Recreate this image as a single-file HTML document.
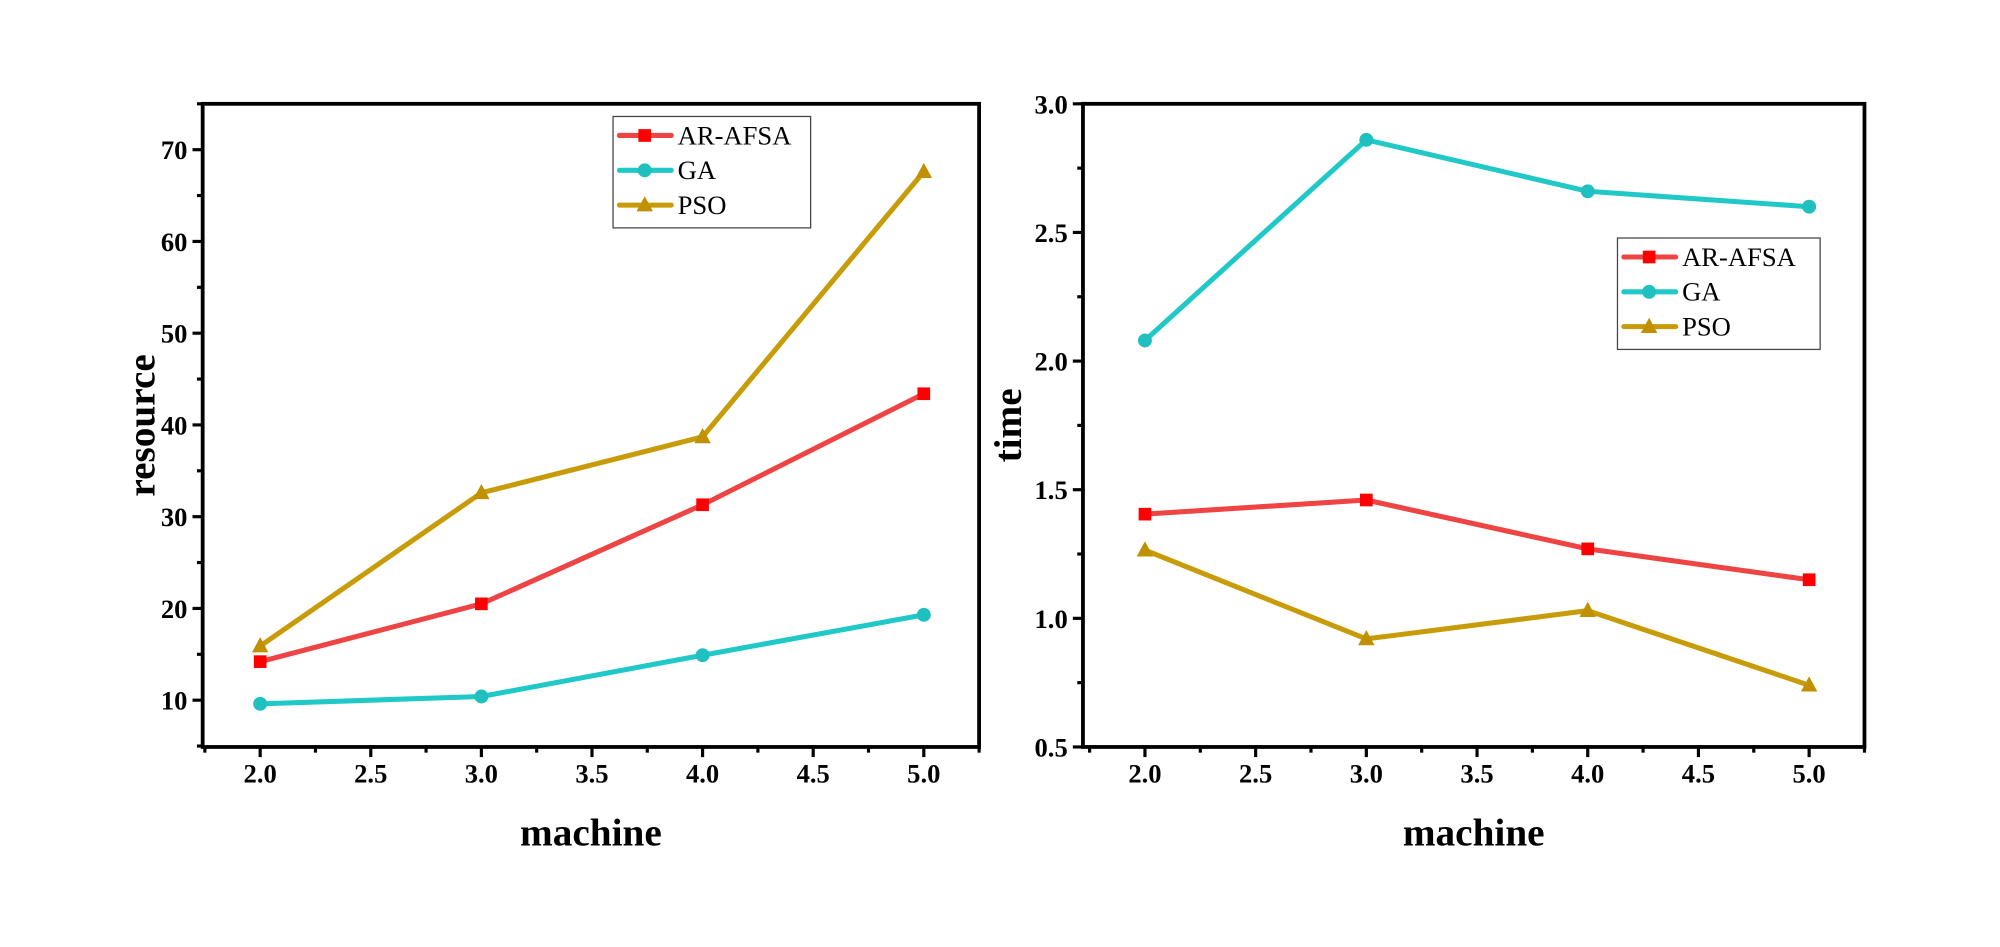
<!DOCTYPE html>
<html><head><meta charset="utf-8"><style>
html,body{margin:0;padding:0;background:#fff;}
svg{display:block;}
text{font-family:"Liberation Serif",serif;}
</style></head><body>
<svg id="root" width="2000" height="947" viewBox="0 0 1579 748" preserveAspectRatio="none" xmlns="http://www.w3.org/2000/svg"></svg>
<script>
const categories = [2, 3, 4, 5];
const seriesNames = ["AR-AFSA", "GA", "PSO"];
const resourceAR = [14.2, 20.5, 31.3, 43.4];
const resourceGA = [9.6, 10.4, 14.9, 19.3];
const resourcePSO = [15.9, 32.6, 38.7, 67.6];
const timeAR = [1.405, 1.46, 1.27, 1.15];
const timeGA = [2.08, 2.86, 2.66, 2.60];
const timePSO = [1.265, 0.92, 1.03, 0.74];
const xTickLabels = ["2.0","2.5","3.0","3.5","4.0","4.5","5.0"];
const leftYTickLabels = ["10","20","30","40","50","60","70"];
const rightYTickLabels = ["0.5","1.0","1.5","2.0","2.5","3.0"];

const NS = "http://www.w3.org/2000/svg";
const root = document.getElementById('root');
const colors = {"AR-AFSA":{line:"#ee4444",mark:"#ff0000"}, "GA":{line:"#20c8c8",mark:"#20c0c0"}, "PSO":{line:"#c89c08",mark:"#c09000"}};
function mk(tag, attrs, parent){const e=document.createElementNS(NS,tag);for(const k in attrs)e.setAttribute(k,attrs[k]);(parent||root).appendChild(e);return e;}

function marker(g, name, x, y){
  const c = colors[name].mark;
  let m;
  if(name==="AR-AFSA") m = mk('rect',{x:x-5,y:y-5,width:10,height:10,fill:c},g);
  else if(name==="GA") m = mk('circle',{cx:x,cy:y,r:5.5,fill:c},g);
  else m = mk('polygon',{points:`${x},${y-7} ${x-6.5},${y+5} ${x+6.5},${y+5}`,fill:c},g);
  
  
}

function panel(opts){
  const {L,R,T,B,xmin,xmax,ymin,ymax,yMajor,yMinorStep,yLabels,yTitle,titleX,series,legend,name} = opts;
  const g = mk('g',{});
  
  
  const sx = v => L + (v-xmin)/(xmax-xmin)*(R-L);
  const sy = v => B - (v-ymin)/(ymax-ymin)*(B-T);
  for(let v=1.75; v<=5.25+1e-9; v+=0.25){
    const major = Math.abs(v*2-Math.round(v*2))<1e-9 && v>=2-1e-9 && v<=5+1e-9;
    if(v<xmin||v>xmax) continue;
    mk('line',{x1:sx(v),x2:sx(v),y1:B,y2:B+(major?8:4.5),stroke:"#000","stroke-width":2.5},g);
  }
  xTickLabels.forEach(s=>{
    const t = mk('text',{x:sx(parseFloat(s)),y:B+28,"text-anchor":"middle","font-size":21,"font-weight":"bold"},g);
    t.textContent = s;
    
    
  });
  for(let v=Math.ceil(ymin/yMinorStep)*yMinorStep; v<=ymax+1e-9; v+=yMinorStep){
    const major = Math.abs(v/yMajor-Math.round(v/yMajor))<1e-6;
    mk('line',{x1:L,x2:L-(major?8:4.5),y1:sy(v),y2:sy(v),stroke:"#000","stroke-width":2.5},g);
  }
  yLabels.forEach(s=>{
    const t = mk('text',{x:L-12,y:sy(parseFloat(s))+7.5,"text-anchor":"end","font-size":21,"font-weight":"bold"},g);
    t.textContent = s;
    
    
  });
  const fr = mk('rect',{x:L,y:T,width:R-L,height:B-T,fill:"none",stroke:"#000","stroke-width":3},g);
  
  
  series.forEach(([nm, vals])=>{
    const sg = mk('g',{},g);
    
    
    const pts = vals.map((v,i)=>sx(categories[i])+','+sy(v)).join(' ');
    mk('polyline',{points:pts,fill:"none",stroke:colors[nm].line,"stroke-width":4,"stroke-linejoin":"round"},sg);
    vals.forEach((v,i)=>marker(sg,nm,sx(categories[i]),sy(v)));
  });
  const xt = mk('text',{x:(L+R)/2,y:B+78,"text-anchor":"middle","font-size":31,"font-weight":"bold"},g);
  xt.textContent="machine";
  
  
  const yt = mk('text',{x:titleX,y:(T+B)/2,"text-anchor":"middle","font-size":31,"font-weight":"bold",transform:`rotate(-90 ${titleX} ${(T+B)/2})`},g);
  yt.textContent=yTitle;
  
  
  const lg = mk('g',{},g);
  
  
  mk('rect',{x:legend.x,y:legend.y,width:legend.w,height:88,fill:"#fff",stroke:"#444","stroke-width":1},lg);
  seriesNames.forEach((nm,i)=>{
    const y = legend.y+15+i*27.5;
    const e = mk('g',{},lg);
    
    
    mk('line',{x1:legend.x+5,x2:legend.x+46,y1:y,y2:y,stroke:colors[nm].line,"stroke-width":4,"stroke-linecap":"round"},e);
    marker(e,nm,legend.x+25,y);
    const t = mk('text',{x:legend.x+51,y:y+7,"font-size":21},e);
    t.textContent = nm;
  });
}

panel({name:"resource-chart",L:160,R:773,T:82,B:590,xmin:1.74,xmax:5.25,ymin:4.9,ymax:75,yMajor:10,yMinorStep:5,
  yLabels:leftYTickLabels,yTitle:"resource",titleX:122,
  series:[["AR-AFSA",resourceAR],["GA",resourceGA],["PSO",resourcePSO]],
  legend:{x:484,y:92,w:156}});
panel({name:"time-chart",L:855,R:1472,T:82,B:590,xmin:1.72,xmax:5.25,ymin:0.5,ymax:3.0,yMajor:0.5,yMinorStep:0.25,
  yLabels:rightYTickLabels,yTitle:"time",titleX:806,
  series:[["AR-AFSA",timeAR],["GA",timeGA],["PSO",timePSO]],
  legend:{x:1277,y:188,w:160}});
</script>
</body></html>
